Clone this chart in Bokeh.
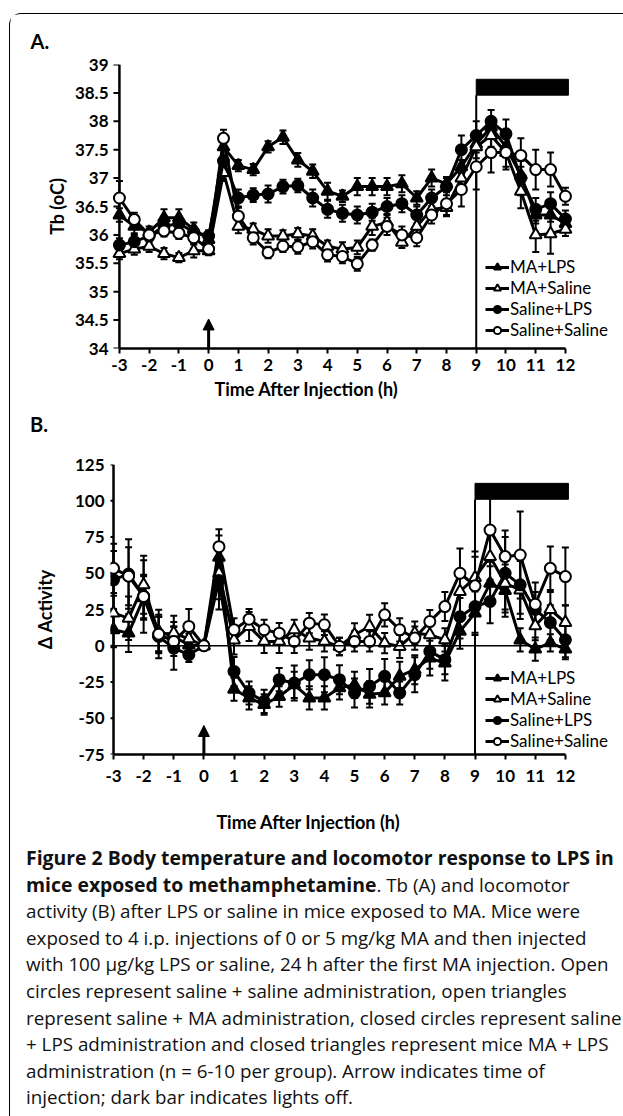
import math
from bokeh.plotting import figure
from bokeh.models import (ColumnDataSource, Whisker, TeeHead, Arrow, NormalHead,
                          Legend, LegendItem, Title, FixedTicker, Div)
from bokeh.layouts import column
from bokeh.embed import file_html
from bokeh.resources import INLINE

# ---------------- data ----------------
hours = [-3, -2.5, -2, -1.5, -1, -0.5, 0, 0.5, 1, 1.5, 2, 2.5, 3, 3.5, 4, 4.5,
         5, 5.5, 6, 6.5, 7, 7.5, 8, 8.5, 9, 9.5, 10, 10.5, 11, 11.5, 12]

series_names = ["MA+LPS", "MA+Saline", "Saline+LPS", "Saline+Saline"]

# Panel A: body temperature (Tb, oC)
tb_ma_lps = [36.35, 36.15, 36.05, 36.3, 36.3, 36.1, 35.92, 37.55, 37.22, 37.15, 37.55, 37.72,
             37.32, 37.12, 36.77, 36.68, 36.85, 36.85, 36.85, 36.9, 36.65, 37.0, 36.9, 37.2,
             37.6, 37.9, 37.55, 37.05, 36.35, 36.35, 36.2]
tb_ma_saline = [35.67, 35.75, 35.8, 35.67, 35.6, 35.72, 35.72, 37.1, 36.15, 36.1, 35.98, 35.98,
                36.02, 35.98, 35.8, 35.75, 35.78, 36.15, 36.22, 35.87, 36.15, 36.45, 36.48, 37.0,
                37.55, 37.75, 37.45, 36.77, 36.0, 36.02, 36.1]
tb_sal_lps = [35.82, 35.88, 35.98, 36.15, 36.2, 36.05, 35.98, 37.3, 36.65, 36.7, 36.72, 36.85,
              36.87, 36.65, 36.45, 36.38, 36.35, 36.4, 36.5, 36.55, 36.35, 36.65, 36.85, 37.5,
              37.75, 38.0, 37.78, 37.0, 36.45, 36.55, 36.28]
tb_sal_sal = [36.65, 36.27, 36.0, 36.07, 36.03, 35.95, 35.75, 37.7, 36.33, 35.95, 35.69, 35.8,
              35.79, 35.88, 35.65, 35.62, 35.49, 35.82, 36.15, 36.0, 35.95, 36.35, 36.55, 36.8,
              37.2, 37.45, 37.45, 37.4, 37.15, 37.15, 36.68]

tb_ma_lps_sem = [0.12, 0.12, 0.1, 0.15, 0.15, 0.12, 0.1, 0.15, 0.1, 0.1, 0.1, 0.12, 0.12, 0.12,
                 0.15, 0.1, 0.15, 0.15, 0.15, 0.15, 0.12, 0.15, 0.12, 0.12, 0.15, 0.15, 0.15,
                 0.15, 0.15, 0.12, 0.12]
tb_ma_saline_sem = [0.1, 0.1, 0.1, 0.1, 0.08, 0.12, 0.08, 0.15, 0.12, 0.1, 0.12, 0.1, 0.1, 0.12,
                    0.1, 0.12, 0.12, 0.15, 0.15, 0.1, 0.15, 0.15, 0.15, 0.2, 0.2, 0.2, 0.25,
                    0.3, 0.3, 0.35, 0.12]
tb_sal_lps_sem = [0.12, 0.12, 0.1, 0.12, 0.12, 0.1, 0.1, 0.2, 0.15, 0.12, 0.15, 0.12, 0.12, 0.15,
                  0.15, 0.15, 0.15, 0.15, 0.15, 0.15, 0.15, 0.15, 0.15, 0.25, 0.25, 0.2, 0.25,
                  0.3, 0.2, 0.2, 0.15]
tb_sal_sal_sem = [0.3, 0.12, 0.1, 0.1, 0.1, 0.12, 0.1, 0.15, 0.15, 0.12, 0.1, 0.1, 0.12, 0.12,
                  0.12, 0.12, 0.12, 0.1, 0.15, 0.15, 0.15, 0.15, 0.2, 0.3, 0.4, 0.35, 0.3,
                  0.3, 0.35, 0.3, 0.15]

# Panel B: change in locomotor activity
act_ma_lps = [11, 8.7, 33, 9.9, 6.4, 0.5, 0, 61, -30, -36, -40.5, -35, -27, -36, -36, -29,
              -27, -33.5, -32.5, -21, -16.5, -8.5, -12, 10, 22.5, 43, 38, 4, -2.3, 2, -2.3]
act_ma_saline = [22.5, 19, 42, 8, 8.7, 4.8, 0, 50, 4, 13.3, 3, 3, 11, 5.3, 3, -0.5,
                 7.6, 13.3, 1.8, -0.5, 8.7, 7.6, 4.1, 37.4, 47, 61.5, 43, 38.5, 13.8, 25, 16]
act_sal_lps = [45.4, 49.5, 34, 6.4, -1.6, -6.2, 0, 45, -17.7, -32.6, -38.3, -23.4, -25.7, -20,
               -20, -23.4, -32.6, -28, -21.1, -32.6, -20, -3.9, -9.6, 20, 27, 30.5, 50, 42,
               25, 16, 4.1]
act_sal_sal = [53.4, 48, 34, 8, 3, 13.3, 0, 68.3, 11, 18.3, 11, 8.7, 3, 15.6, 14.5, -0.5,
               3, 3, 21.3, 11, 5.3, 16.7, 27, 50, 41.3, 79.8, 61.5, 62.6, 28.6, 53.4, 47.7]

act_ma_lps_sem = [12, 13, 15, 15, 10, 8, 3, 15, 8, 8, 7, 7, 9, 8, 8, 8, 9, 9, 8, 10, 10, 12,
                  12, 12, 15, 15, 18, 8, 8, 6, 7]
act_ma_saline_sem = [12, 15, 20, 12, 12, 10, 3, 18, 10, 10, 8, 8, 7, 8, 7, 6, 8, 8, 7, 8, 8,
                     8, 8, 15, 18, 20, 20, 20, 10, 12, 12]
act_sal_lps_sem = [20, 24, 25, 15, 15, 5, 3, 20, 10, 8, 8, 8, 12, 10, 12, 10, 10, 12, 12, 8,
                   12, 12, 10, 15, 18, 15, 25, 20, 12, 12, 12]
act_sal_sal_sem = [17, 20, 15, 12, 10, 12, 3, 12, 8, 7, 7, 7, 8, 7, 7, 6, 7, 7, 8, 8, 8, 8,
                   10, 17, 20, 25, 18, 30, 15, 15, 20]

x_ticks = [-3, -2, -1, 0, 1, 2, 3, 4, 5, 6, 7, 8, 9, 10, 11, 12]
x_tick_labels = ["-3", "-2", "-1", "0", "1", "2", "3", "4", "5", "6", "7", "8", "9", "10",
                 "11", "12"]
tb_ticks = [34, 34.5, 35, 35.5, 36, 36.5, 37, 37.5, 38, 38.5, 39]
tb_tick_labels = ["34", "34.5", "35", "35.5", "36", "36.5", "37", "37.5", "38", "38.5", "39"]
act_ticks = [-75, -50, -25, 0, 25, 50, 75, 100, 125]
act_tick_labels = ["-75", "-50", "-25", "0", "25", "50", "75", "100", "125"]

x_start, x_end = -3, 12
injection_time = 0
lights_off = [9, 12.1]
tb_dark_bar = [38.46, 38.74]
act_dark_bar = [101, 112]
tb_arrow = [34, 34.52]
act_arrow = [-75, -55]

x_title = "Time After Injection (h)"
caption_html = (
    "<b>Figure 2 Body temperature and locomotor response to LPS in</b><br>"
    "<b>mice exposed to methamphetamine</b>. Tb (A) and locomotor<br>"
    "activity (B) after LPS or saline in mice exposed to MA. Mice were<br>"
    "exposed to 4 i.p. injections of 0 or 5 mg/kg MA and then injected<br>"
    "with 100 \u00b5g/kg LPS or saline, 24 h after the first MA injection. Open<br>"
    "circles represent saline + saline administration, open triangles<br>"
    "represent saline + MA administration, closed circles represent saline<br>"
    "+ LPS administration and closed triangles represent mice MA + LPS<br>"
    "administration (n = 6-10 per group). Arrow indicates time of<br>"
    "injection; dark bar indicates lights off."
)

FONT = "Lato"
markers = [("triangle", "black"), ("triangle", "white"), ("circle", "black"), ("circle", "white")]


def make_panel(series, sems, xr, yr, yticks, ylabels, ylabel, bar, arrow, dims, legend_loc,
               ylab_standoff, tick_standoff, xtick_standoff):
    W, H, bl, br, bt, bb = dims
    p = figure(width=W, height=H, x_range=xr, y_range=yr,
               output_backend="svg", toolbar_location=None,
               min_border_left=bl, min_border_right=br, min_border_top=bt,
               min_border_bottom=bb)
    p.outline_line_color = None
    p.grid.visible = False
    p.background_fill_color = "white"
    p.border_fill_color = "white"

    # axes
    p.xaxis.ticker = FixedTicker(ticks=x_ticks)
    p.xaxis.major_label_overrides = {t: l for t, l in zip(x_ticks, x_tick_labels)}
    p.xaxis.bounds = (x_start, x_end)
    p.yaxis.ticker = FixedTicker(ticks=yticks)
    p.yaxis.major_label_overrides = {t: l for t, l in zip(yticks, ylabels)}
    for ax in (p.xaxis, p.yaxis):
        ax.axis_line_width = 2.5
        ax.axis_line_color = "black"
        ax.major_tick_line_width = 2
        ax.major_tick_line_color = "black"
        ax.major_tick_out = 5
        ax.major_tick_in = 0
        ax.minor_tick_line_color = None
        ax.major_label_text_font = FONT
        ax.major_label_text_font_style = "bold"
        ax.major_label_text_font_size = "17px"
        ax.major_label_text_color = "black"
    p.xaxis.major_label_standoff = xtick_standoff
    # the y axis line and its ticks are drawn at x = -3 (inside the frame)
    p.yaxis.axis_line_color = None
    p.yaxis.major_tick_line_color = None
    p.yaxis.major_tick_out = 0
    p.yaxis.major_label_standoff = tick_standoff
    p.yaxis.axis_label = ylabel
    p.yaxis.axis_label_text_font = FONT
    p.yaxis.axis_label_text_font_style = "bold"
    p.yaxis.axis_label_text_font_size = "18px"
    p.yaxis.axis_label_text_color = "black"
    p.yaxis.axis_label_standoff = ylab_standoff
    p.segment(x0=[x_start], y0=[yr[0]], x1=[x_start], y1=[yr[1]],
              line_color="black", line_width=2.5)
    p.ray(x=[x_start] * len(yticks), y=yticks, length=6, length_units="screen",
          angle=math.pi, line_color="black", line_width=2)

    # lights-off bar and marker line
    p.quad(left=[lights_off[0]], right=[lights_off[1]], bottom=[bar[0]], top=[bar[1]],
           fill_color="black", line_color="black")
    p.segment(x0=[lights_off[0]], y0=[yr[0]], x1=[lights_off[0]], y1=[bar[0]],
              line_color="black", line_width=2)

    items = []
    for name, ys, es, (mk, fill) in zip(series_names, series, sems, markers):
        src = ColumnDataSource(dict(x=hours, y=ys,
                                    upper=[a + b for a, b in zip(ys, es)],
                                    lower=[a - b for a, b in zip(ys, es)]))
        lr = p.line("x", "y", source=src, line_color="black", line_width=3)
        wk = Whisker(source=src, base="x", upper="upper", lower="lower",
                     line_color="black", line_width=2,
                     upper_head=TeeHead(size=7, line_width=2, line_color="black"),
                     lower_head=TeeHead(size=7, line_width=2, line_color="black"))
        p.add_layout(wk)
        sr = p.scatter("x", "y", source=src, marker=mk,
                       size=12 if mk == "triangle" else 11,
                       fill_color=fill, line_color="black", line_width=2)
        items.append(LegendItem(label=name, renderers=[lr, sr]))

    # injection arrow
    p.add_layout(Arrow(end=NormalHead(size=11, fill_color="black", line_color="black"),
                       x_start=injection_time, y_start=arrow[0],
                       x_end=injection_time, y_end=arrow[1],
                       line_color="black", line_width=3))

    legend = Legend(items=items, location=legend_loc, orientation="vertical",
                    label_text_font=FONT, label_text_font_size="17px",
                    label_text_line_height=1.05,
                    label_text_color="black",
                    glyph_width=24, glyph_height=18, label_height=18,
                    spacing=0, padding=0, margin=0, label_standoff=1,
                    background_fill_alpha=0, border_line_alpha=0)
    p.add_layout(legend)
    return p


def text_div(txt, height, line_height, size, pad_left, width=613, center=False):
    st = {"font-family": "Lato, sans-serif", "font-weight": "bold", "font-size": size,
          "line-height": line_height, "color": "black", "white-space": "nowrap"}
    if center:
        st.update({"text-align": "center", "padding-right": "%dpx" % pad_left})
    else:
        st.update({"padding-left": "%dpx" % pad_left})
    return Div(text=txt, width=width, height=height, margin=0, styles=st)


# ---- panel A ----
pA = make_panel([tb_ma_lps, tb_ma_saline, tb_sal_lps, tb_sal_sal],
                [tb_ma_lps_sem, tb_ma_saline_sem, tb_sal_lps_sem, tb_sal_sal_sem],
                (-3.3, 13.65), (34, 39), tb_ticks, tb_tick_labels, "Tb (oC)",
                tb_dark_bar, tb_arrow, (613, 393, 100, 9, 48, 59), (375, 8), 4, 2, 5)
pA.title.text = "A."
pA.title.align = "left"
pA.title.offset = -80
pA.title.standoff = 24
pA.title.text_font = FONT
pA.title.text_font_style = "bold"
pA.title.text_font_size = "20px"
pA.title.text_color = "black"
pA.add_layout(Title(text=x_title, align="left", offset=104, standoff=5, text_font=FONT,
                    text_font_style="bold", text_font_size="18px", text_color="black"),
              "below")

# ---- panel B ----
letter_b = text_div("B.", 35, "35px", "20px", 20)
pB = make_panel([act_ma_lps, act_ma_saline, act_sal_lps, act_sal_sal],
                [act_ma_lps_sem, act_ma_saline_sem, act_sal_lps_sem, act_sal_sal_sem],
                (-3.1, 13.63), (-75, 125), act_ticks, act_tick_labels, "\u0394 Activity",
                act_dark_bar, act_arrow, (613, 348, 100, 9, 22, 36), (375, 3), 16, 6, 10)
pB.title.text = ""
pB.segment(x0=[x_start], y0=[0], x1=[x_end], y1=[0], line_color="black", line_width=1.5)
xlabel_b = text_div(x_title, 55, "64px", "18px", 17, center=True)

caption = Div(text=caption_html.replace("<b>", "<b style='font-size:19.4px'>"),
              width=613, height=271, margin=0,
              styles={"font-family": "'Open Sans', sans-serif", "font-size": "18.8px",
                      "line-height": "26.6px", "padding-left": "16px",
                      "white-space": "nowrap", "color": "#111"})

layout = column(pA, letter_b, pB, xlabel_b, caption, margin=(13, 0, 0, 9), spacing=0,
                styles={"border-left": "1px solid black", "border-top": "1px solid black",
                        "border-top-left-radius": "12px", "background": "white"})

open("out.html", "w").write(file_html(layout, INLINE))
